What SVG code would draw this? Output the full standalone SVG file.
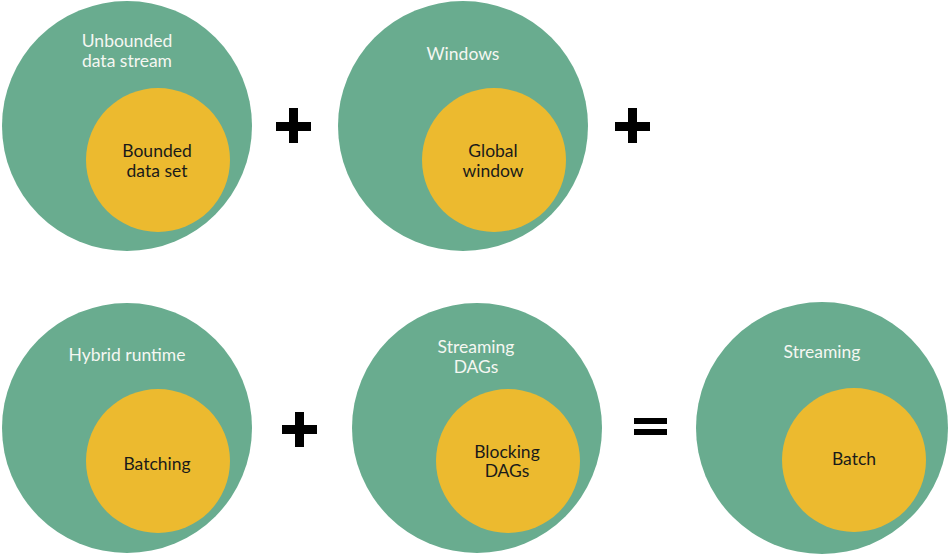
<svg xmlns="http://www.w3.org/2000/svg" width="950" height="554" viewBox="0 0 950 554">
<style>
.outer{fill:#69ac8f}
.inner{fill:#ecba2f}
.lo{font-family:Lato,"Open Sans","Liberation Sans",sans-serif;font-size:17.5px;fill:#f5f7f2;text-anchor:middle}
.li{font-family:Lato,"Open Sans","Liberation Sans",sans-serif;font-size:17.5px;fill:#1a1a1a;text-anchor:middle}
.op{fill:#000}
</style>
<rect width="950" height="554" fill="#fff"/>
<g id="n1">
<circle class="outer" cx="127" cy="126" r="125"/>
<circle class="inner" cx="158" cy="160" r="72"/>
<text class="lo" x="127" y="47">Unbounded</text>
<text class="lo" x="127" y="67">data stream</text>
<text class="li" x="157" y="157">Bounded</text>
<text class="li" x="157" y="177">data set</text>
</g>
<g id="n2">
<circle class="outer" cx="463" cy="126" r="125"/>
<circle class="inner" cx="494" cy="160" r="72"/>
<text class="lo" x="463" y="60">Windows</text>
<text class="li" x="493" y="157">Global</text>
<text class="li" x="493" y="177">window</text>
</g>
<g id="n3">
<circle class="outer" cx="127" cy="428" r="125"/>
<circle class="inner" cx="158" cy="461" r="72"/>
<text class="lo" x="127" y="361">Hybrid runtime</text>
<text class="li" x="157" y="470">Batching</text>
</g>
<g id="n4">
<circle class="outer" cx="477" cy="428" r="125"/>
<circle class="inner" cx="508" cy="461" r="72"/>
<text class="lo" x="476" y="353">Streaming</text>
<text class="lo" x="476" y="373">DAGs</text>
<text class="li" x="507" y="458">Blocking</text>
<text class="li" x="507" y="477">DAGs</text>
</g>
<g id="n5">
<circle class="outer" cx="822" cy="428" r="126"/>
<circle class="inner" cx="854" cy="460" r="72"/>
<text class="lo" x="822" y="358">Streaming</text>
<text class="li" x="854" y="465">Batch</text>
</g>
<g id="connectors">
<path class="op" d="M276,122h35v9h-35zM289,108h9v35h-9z"/>
<path class="op" d="M615,122h35v9h-35zM628,108h9v35h-9z"/>
<path class="op" d="M282,425h35v9h-35zM295,412h9v35h-9z"/>
<path class="op" d="M634,418h33v6h-33zM634,429h33v6h-33z"/>
</g>
</svg>
